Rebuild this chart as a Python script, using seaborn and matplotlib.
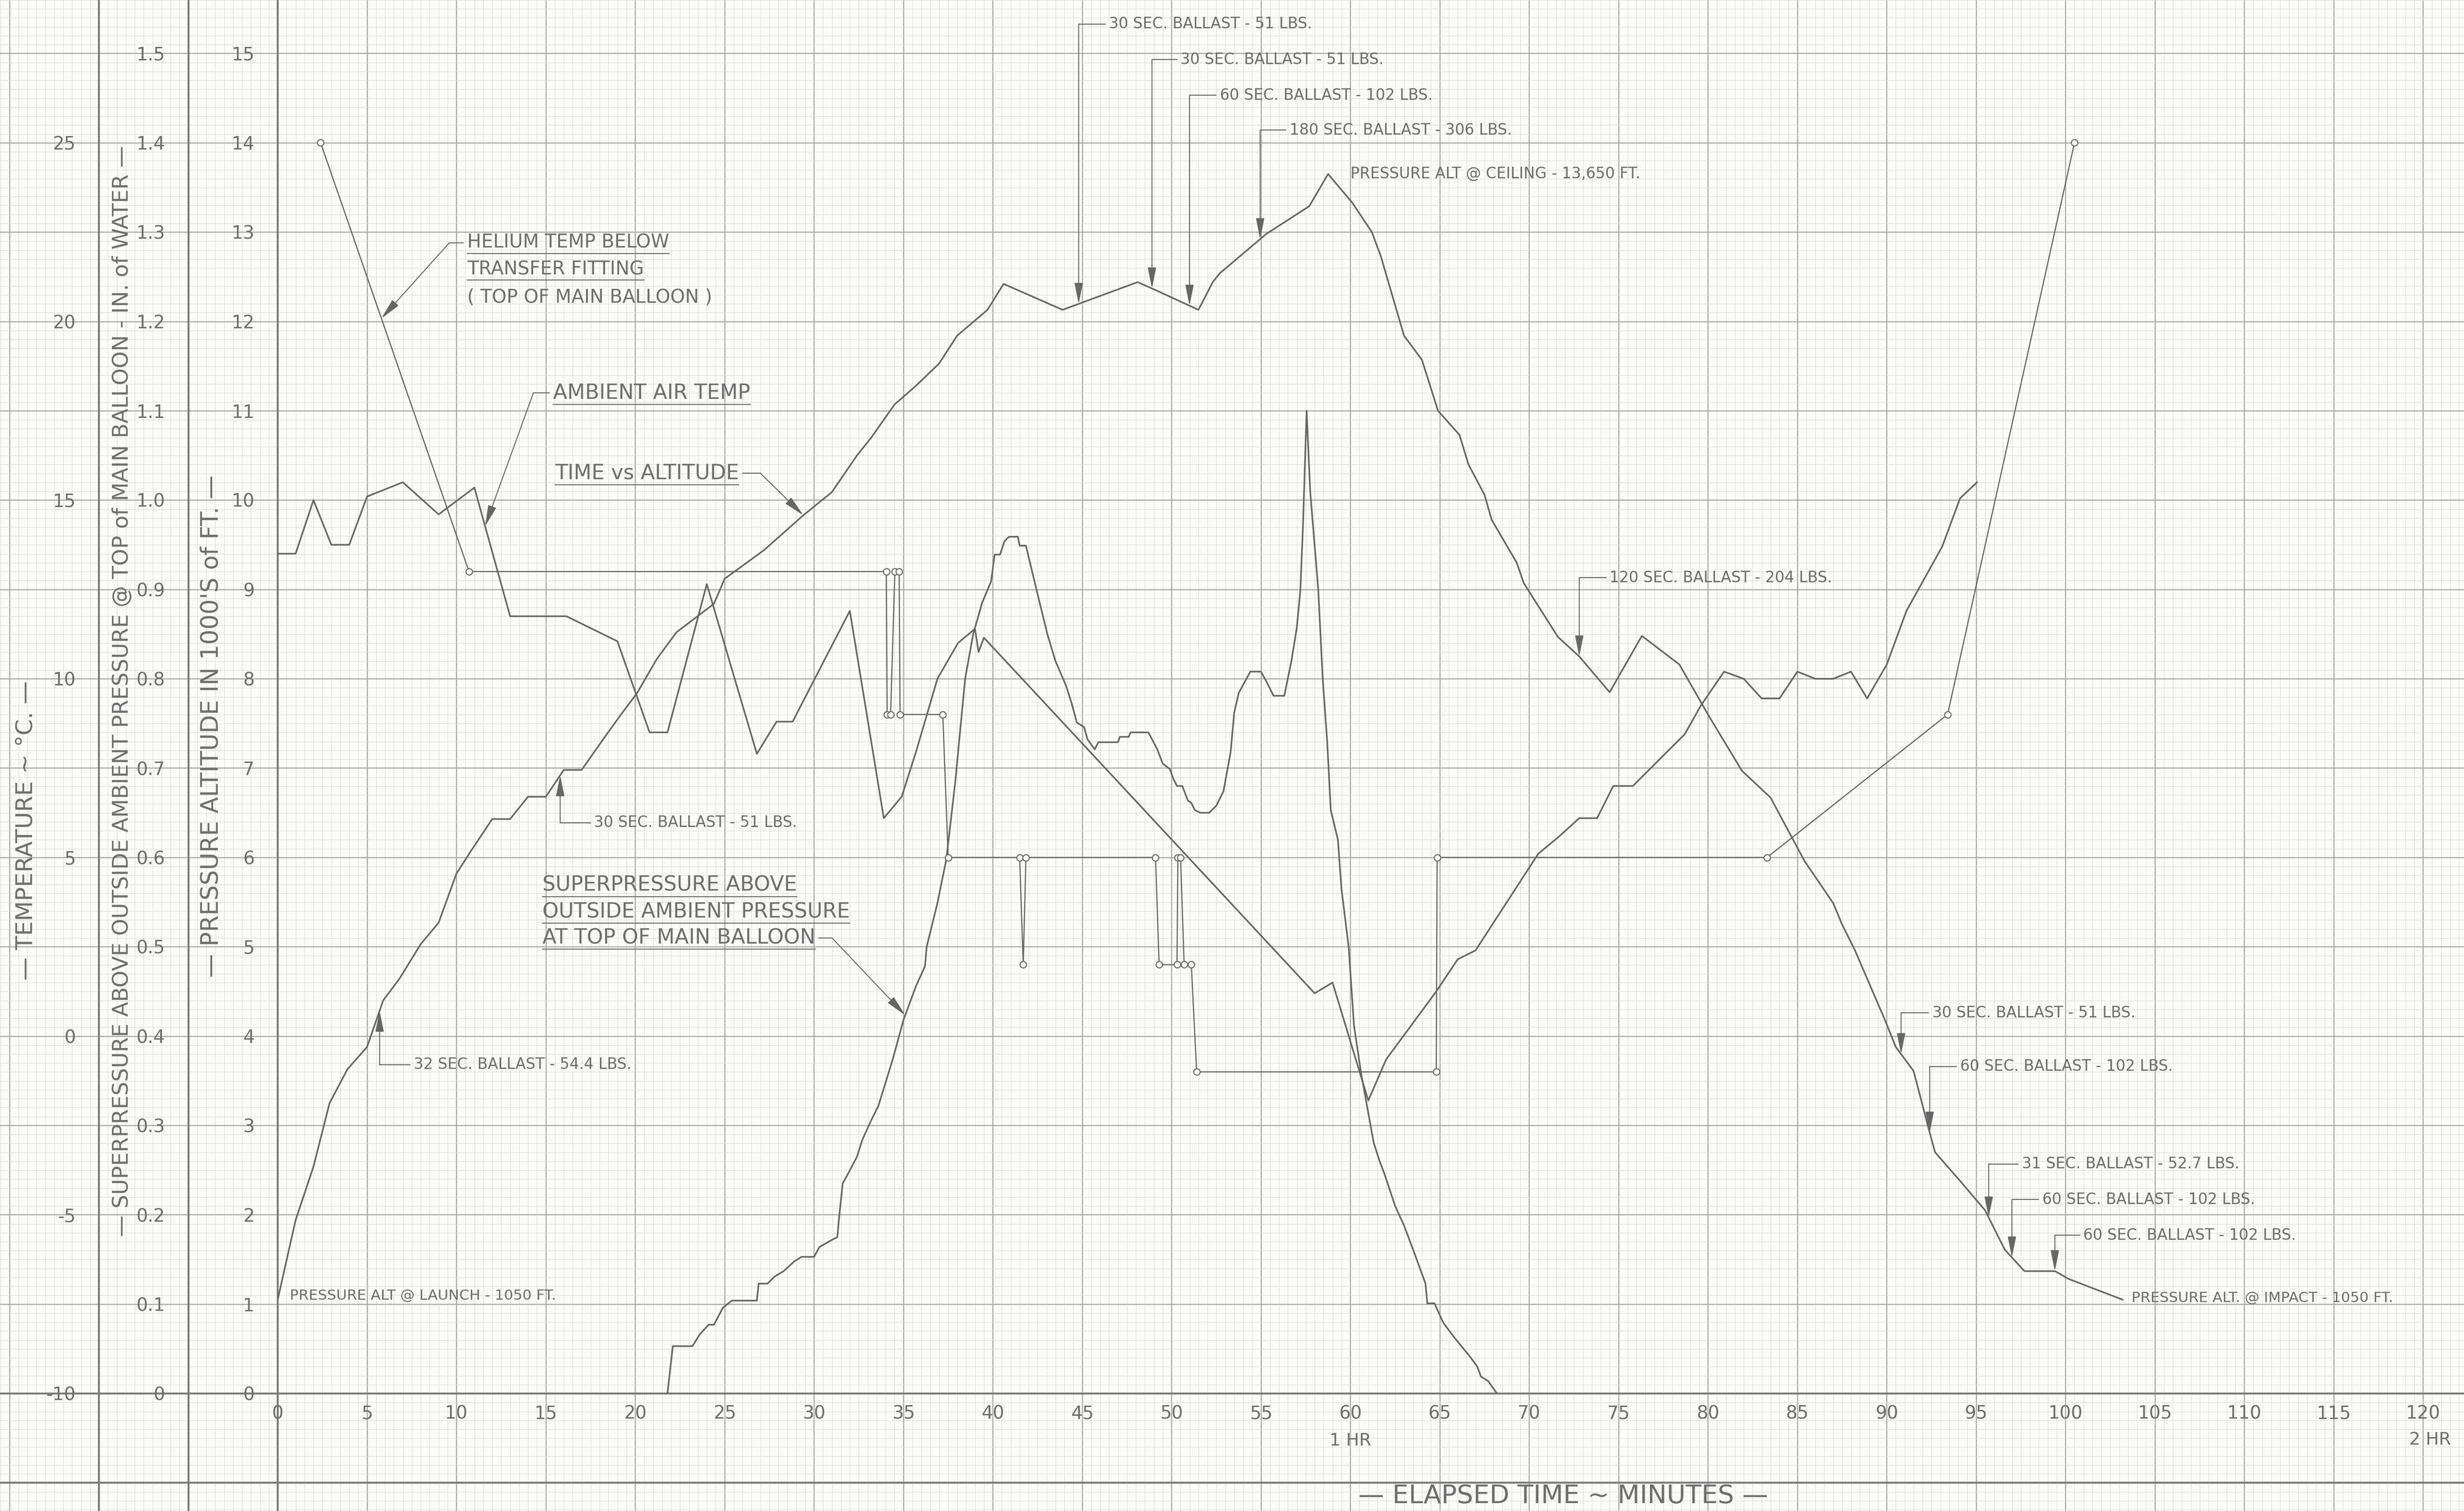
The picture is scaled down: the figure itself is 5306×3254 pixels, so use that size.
import numpy as np
import pandas as pd
import matplotlib
matplotlib.use("Agg")
import matplotlib.pyplot as plt
import seaborn as sns

# ---------------------------------------------------------------- data
# Pressure altitude (thousands of feet) against elapsed time (minutes)
alt_minutes = [0, 1.0, 2.0, 2.9, 3.9, 5.0, 5.9, 6.8, 8.0, 9.0,
               10.0, 10.8, 12.0, 13.0, 14.0, 15.0, 16.0, 17.0, 18.3, 19.2,
               20.1, 21.2, 22.3, 24.4, 25.0, 27.2, 29.4, 31.0, 32.4, 33.2,
               34.5, 35.7, 37.0, 38.0, 39.7, 40.6, 43.9, 48.1, 49.0, 51.5,
               52.3, 52.7, 55.3, 57.7, 58.75, 60.1, 61.2, 61.7, 63.0, 64.0,
               64.9, 66.1, 66.6, 67.5, 67.9, 69.3, 69.7, 71.6, 72.8, 74.5,
               76.3, 78.4, 80.0, 81.9, 83.5, 85.4, 87.0, 87.5, 88.2, 89.9,
               90.5, 91.5, 92.4, 92.7, 94.1, 95.5, 96.6, 97.7, 99.4, 100.2,
               103.2]
alt_kft = [1.05, 1.94, 2.54, 3.25, 3.63, 3.88, 4.40, 4.64, 5.03, 5.27,
           5.82, 6.07, 6.43, 6.43, 6.68, 6.68, 6.98, 6.98, 7.35, 7.60,
           7.84, 8.22, 8.52, 8.84, 9.12, 9.44, 9.83, 10.09, 10.50, 10.70,
           11.07, 11.28, 11.53, 11.84, 12.13, 12.42, 12.13, 12.44, 12.36, 12.13,
           12.44, 12.54, 12.98, 13.29, 13.65, 13.33, 13.00, 12.73, 11.84, 11.57,
           11.00, 10.73, 10.40, 10.06, 9.78, 9.30, 9.07, 8.47, 8.25, 7.85,
           8.48, 8.16, 7.60, 6.97, 6.67, 5.96, 5.49, 5.25, 4.97, 4.18,
           3.88, 3.61, 2.92, 2.70, 2.38, 2.05, 1.61, 1.37, 1.37, 1.28,
           1.05]

# Superpressure above outside ambient pressure, inches of water
sp_minutes = [21.8, 22.1, 23.2, 23.6, 24.1, 24.4, 24.9, 25.4, 26.8, 26.9,
              27.4, 27.8, 28.3, 28.9, 29.3, 30.0, 30.3, 31.0, 31.3, 31.4,
              31.6, 31.9, 32.4, 32.7, 33.2, 33.6, 34.4, 35.0, 35.7, 36.2,
              36.3, 36.9, 37.4, 37.9, 38.45, 38.9, 39.4, 39.9, 40.1, 40.4,
              40.65, 40.9, 41.4, 41.5, 41.85, 42.45, 43.05, 43.5, 44.1, 44.4,
              44.7, 45.1, 45.3, 45.7, 45.9, 47.0, 47.1, 47.6, 47.7, 48.7,
              49.2, 49.5, 49.9, 50.1, 50.3, 50.6, 50.9, 51.1, 51.3, 51.6,
              52.1, 52.5, 52.9, 53.3, 53.5, 53.75, 54.4, 55.0, 55.3, 55.7,
              56.3, 56.7, 57.0, 57.2, 57.35, 57.55, 57.75, 58.2, 58.45, 58.7,
              58.9, 59.3, 59.5, 59.9, 60.2, 60.6, 61.1, 61.3, 61.6, 61.9,
              62.5, 63.0, 63.6, 64.2, 64.3, 64.7, 65.2, 65.8, 66.25, 66.7,
              67.1, 67.3, 67.7, 68.2]
sp_inh2o = [0.0, 0.053, 0.053, 0.066, 0.077, 0.077, 0.096, 0.104, 0.104, 0.123,
            0.123, 0.131, 0.137, 0.148, 0.153, 0.153, 0.164, 0.172, 0.175, 0.197,
            0.235, 0.246, 0.265, 0.284, 0.306, 0.322, 0.374, 0.418, 0.456, 0.478,
            0.500, 0.549, 0.598, 0.685, 0.800, 0.850, 0.885, 0.909, 0.939, 0.939,
            0.954, 0.959, 0.959, 0.949, 0.949, 0.899, 0.850, 0.820, 0.792, 0.773,
            0.751, 0.746, 0.732, 0.721, 0.729, 0.729, 0.735, 0.735, 0.740, 0.740,
            0.721, 0.705, 0.699, 0.688, 0.680, 0.680, 0.664, 0.661, 0.653, 0.650,
            0.650, 0.658, 0.674, 0.718, 0.762, 0.784, 0.808, 0.808, 0.797, 0.781,
            0.781, 0.820, 0.857, 0.899, 0.973, 1.100, 1.010, 0.900, 0.800, 0.730,
            0.653, 0.620, 0.565, 0.500, 0.412, 0.358, 0.303, 0.281, 0.262, 0.246,
            0.210, 0.188, 0.156, 0.123, 0.101, 0.101, 0.079, 0.063, 0.052, 0.041,
            0.030, 0.019, 0.014, 0.0]

# Helium temperature below transfer fitting, deg C (logged readings)
helium_minutes = [2.4, 10.7, 34.04, 34.09, 34.28, 34.52, 34.76, 34.81, 37.2, 37.5,
                  41.5, 41.7, 41.85, 49.1, 49.3, 50.3, 50.35, 50.5, 50.7, 51.1,
                  51.4, 64.8, 64.85, 83.3, 93.4, 100.5]
helium_degc = [25, 13, 13, 9, 9, 13, 13, 9, 9, 5,
               5, 2, 5, 5, 2, 2, 5, 5, 2, 2,
               -1, -1, 5, 5, 9, 25]

# Ambient air temperature, deg C
ambient_minutes = [0, 1, 2, 3, 4, 5, 7, 9, 11, 13,
                   16.15, 19.0, 20.8, 21.8, 24.0, 26.8, 27.9, 28.8, 32.0, 33.9,
                   34.9, 35.7, 36.9, 38.05, 39.0, 39.2, 39.5, 58.0, 59.0, 61.0,
                   62.0, 64.8, 66.0, 67.0, 70.5, 71.7, 72.8, 73.8, 74.7, 75.8,
                   76.8, 78.7, 79.6, 80.9, 82.0, 83.0, 84.0, 85.0, 86.0, 87.0,
                   88.0, 88.9, 90.0, 91.1, 93.1, 94.1, 95.05]
ambient_degc = [13.5, 13.5, 15.0, 13.75, 13.75, 15.1, 15.5, 14.6, 15.35, 11.75,
                11.75, 11.05, 8.5, 8.5, 12.65, 7.9, 8.8, 8.8, 11.9, 6.1,
                6.7, 7.95, 10.0, 11.0, 11.4, 10.75, 11.15, 1.2, 1.5, -1.8,
                -0.65, 1.25, 2.15, 2.4, 5.1, 5.6, 6.1, 6.1, 7.0, 7.0,
                7.5, 8.45, 9.25, 10.2, 10.0, 9.45, 9.45, 10.2, 10.0, 10.0,
                10.2, 9.45, 10.4, 11.9, 13.7, 15.05, 15.5]

# Axis scales
minute_ticks = list(range(0, 121, 5))
altitude_ticks = list(range(0, 16))
pressure_ticks = [i / 10 for i in range(16)]
pressure_labels = ["0"] + [f"{v:.1f}" for v in pressure_ticks[1:]]
temp_ticks = [-10, -5, 0, 5, 10, 15, 20, 25]

# Ballast notes on the altitude trace: (text, text x, text y, arrow x)
ballast_notes = [
    ("32 SEC. BALLAST - 54.4 LBS.", 7.6, 3.68, 5.7),
    ("30 SEC. BALLAST - 51 LBS.", 17.7, 6.39, 15.8),
    ("30 SEC. BALLAST - 51 LBS.", 46.5, 15.33, 44.8),
    ("30 SEC. BALLAST - 51 LBS.", 50.5, 14.93, 48.9),
    ("60 SEC. BALLAST - 102 LBS.", 52.7, 14.53, 51.0),
    ("180 SEC. BALLAST - 306 LBS.", 56.6, 14.14, 54.95),
    ("120 SEC. BALLAST - 204 LBS.", 74.5, 9.13, 72.8),
    ("30 SEC. BALLAST - 51 LBS.", 92.55, 4.26, 90.8),
    ("60 SEC. BALLAST - 102 LBS.", 94.1, 3.66, 92.4),
    ("31 SEC. BALLAST - 52.7 LBS.", 97.55, 2.57, 95.7),
    ("60 SEC. BALLAST - 102 LBS.", 98.7, 2.17, 97.0),
    ("60 SEC. BALLAST - 102 LBS.", 101.0, 1.77, 99.4),
]

# ---------------------------------------------------------------- style
INK = "#666666"
TEXT = "#6e6e6e"
PAPER = "#fbfbfa"
GRID_MAJOR = "#a8a8a8"
GRID_MINOR = "#d9d9d9"
RULE = "#7a7a7a"
LW = 2.5
NOTE_SIZE = 23.5

sns.set_style("white")
plt.rcParams["font.family"] = ["DejaVu Sans"]
plt.rcParams["axes.unicode_minus"] = False

W, H, DPI = 5306, 3254, 100
X0, Y0 = 598, 3001          # pixel position of (0 min, 0 ft)
PX_MIN, PX_KFT = 38.5, 192.4  # pixels per minute / per 1000 ft

fig = plt.figure(figsize=(W / DPI, H / DPI), dpi=DPI, facecolor=PAPER)

# graph paper covering the whole sheet, in the same units as the plot
bg = fig.add_axes([0, 0, 1, 1], zorder=0)
bg.set_facecolor(PAPER)
bg.set_xlim(-X0 / PX_MIN, (W - X0) / PX_MIN)
bg.set_ylim(-(H - Y0) / PX_KFT, Y0 / PX_KFT)
bg.set_xticks(np.arange(-15, 125, 5))
bg.set_xticks(np.arange(-15.5, 122.5, 0.5), minor=True)
bg.set_yticks(np.arange(-1, 16, 1))
bg.set_yticks(np.round(np.arange(-1.3, 15.65, 0.1), 2), minor=True)
bg.grid(which="minor", color=GRID_MINOR, lw=0.7)
bg.grid(which="major", color=GRID_MAJOR, lw=1.7)
bg.tick_params(which="both", length=0, labelbottom=False, labelleft=False)
for s in bg.spines.values():
    s.set_visible(False)
for xv in (-10, -5, 0):
    bg.axvline(xv, color=RULE, lw=3.0)
for yv in (0, -1):
    bg.axhline(yv, color=RULE, lw=3.0)

# main plot: altitude scale
ax = fig.add_axes([X0 / W, (H - Y0) / H, 120 * PX_MIN / W, 15 * PX_KFT / H], zorder=2)
ax.patch.set_visible(False)
ax_sp = ax.twinx()
ax_t = ax.twinx()
ax_sp.set_zorder(3)
ax_t.set_zorder(4)

alt_df = pd.DataFrame({"minutes": alt_minutes, "altitude": alt_kft})
sp_df = pd.DataFrame({"minutes": sp_minutes, "superpressure": sp_inh2o})
he_df = pd.DataFrame({"minutes": helium_minutes, "temperature": helium_degc})
amb_df = pd.DataFrame({"minutes": ambient_minutes, "temperature": ambient_degc})

sns.lineplot(data=alt_df, x="minutes", y="altitude", ax=ax, sort=False,
             estimator=None, color=INK, lw=LW)
sns.lineplot(data=sp_df, x="minutes", y="superpressure", ax=ax_sp, sort=False,
             estimator=None, color=INK, lw=LW)
sns.lineplot(data=amb_df, x="minutes", y="temperature", ax=ax_t, sort=False,
             estimator=None, color=INK, lw=LW)
sns.lineplot(data=he_df, x="minutes", y="temperature", ax=ax_t, sort=False,
             estimator=None, color=INK, lw=1.8, marker="o", markersize=10,
             markerfacecolor=PAPER, markeredgecolor=INK, markeredgewidth=1.6)

ax.set_xlim(0, 120)
ax.set_ylim(0, 15)
ax_sp.set_ylim(0, 1.5)
ax_t.set_ylim(-10, 27.5)

tick_kw = dict(length=0, labelsize=28, labelcolor=TEXT)
ax.set_xticks(minute_ticks)
ax.set_xticklabels([str(m) for m in minute_ticks])
ax.tick_params(axis="x", pad=18, **tick_kw)
ax.set_yticks(altitude_ticks)
ax.set_yticklabels([str(a) for a in altitude_ticks])
ax.tick_params(axis="y", pad=36, **tick_kw)

ax_sp.yaxis.tick_left()
ax_sp.spines["left"].set_position(("axes", -5 / 120))
ax_sp.set_yticks(pressure_ticks)
ax_sp.set_yticklabels(pressure_labels)
ax_sp.tick_params(axis="y", pad=36, **tick_kw)

ax_t.yaxis.tick_left()
ax_t.spines["left"].set_position(("axes", -10 / 120))
ax_t.set_yticks(temp_ticks)
ax_t.set_yticklabels([str(t) for t in temp_ticks])
ax_t.tick_params(axis="y", pad=36, **tick_kw)

for a in (ax, ax_sp, ax_t):
    for s in a.spines.values():
        s.set_visible(False)

# axis titles
ax.set_xlabel("— ELAPSED TIME ~ MINUTES —", fontsize=40, color=TEXT)
ax.xaxis.set_label_coords(71.9 / 120, -1.15 / 15)
ax.xaxis.label.set_verticalalignment("center")

ax.set_ylabel("— PRESSURE ALTITUDE IN 1000'S of FT. —", fontsize=37, color=TEXT)
ax.yaxis.set_label_coords(-3.7 / 120, 7.47 / 15)
ax_sp.set_ylabel("— SUPERPRESSURE ABOVE OUTSIDE AMBIENT PRESSURE @ TOP of MAIN BALLOON - IN. of WATER —",
                 fontsize=33.5, color=TEXT)
ax_sp.yaxis.set_label_position("left")
ax_sp.yaxis.set_label_coords(-8.7 / 120, 7.86 / 15)
ax_t.set_ylabel("— TEMPERATURE ~ °C. —", fontsize=36, color=TEXT)
ax_t.yaxis.set_label_position("left")
ax_t.yaxis.set_label_coords(-14.1 / 120, 6.3 / 15)
for a in (ax, ax_sp, ax_t):
    a.yaxis.label.set_verticalalignment("center")
    a.yaxis.label.set_horizontalalignment("center")

ax.text(60, -0.53, "1 HR", fontsize=27, color=TEXT, ha="center", va="center")
ax.text(120.4, -0.52, "2 HR", fontsize=27, color=TEXT, ha="center", va="center")

# ---------------------------------------------------------------- notes
renderer = fig.canvas.get_renderer()
ARROW = dict(arrowstyle="-|>,head_length=0.7,head_width=0.14", color=INK, lw=1.5,
             shrinkA=0, shrinkB=0, mutation_scale=40)


def text_box(t):
    bb = t.get_window_extent(renderer)
    (x0, y0), (x1, y1) = ax.transData.inverted().transform([[bb.x0, bb.y0], [bb.x1, bb.y1]])
    return x0, y0, x1, y1


def note(lines, x, ys, size, underline=()):
    texts = []
    for i, (s, y) in enumerate(zip(lines, ys)):
        t = ax.text(x, y, s, fontsize=size, color=TEXT, ha="left", va="center")
        texts.append(t)
        if i in underline:
            bx0, by0, bx1, by1 = text_box(t)
            ax.plot([bx0, bx1], [by0 - 0.015, by0 - 0.015], color=TEXT, lw=1.6,
                    clip_on=False)
    return texts


def leader(t, elbow_x, tip, tip_axes, side="left"):
    bx0, by0, bx1, by1 = text_box(t)
    y = t.get_position()[1]
    start = bx0 - 0.2 if side == "left" else bx1 + 0.2
    ax.plot([start, elbow_x], [y, y], color=INK, lw=1.5, clip_on=False)
    ax.annotate("", xy=tip, xycoords=tip_axes.transData, xytext=(elbow_x, y),
                textcoords="data", arrowprops=ARROW, annotation_clip=False)


for label, tx, ty, ax_x in ballast_notes:
    (t,) = note([label], tx, [ty], NOTE_SIZE)
    tip_y = float(np.interp(ax_x, alt_minutes, alt_kft))
    leader(t, ax_x, (ax_x, tip_y), ax)

# series labels
he = note(["HELIUM TEMP BELOW", "TRANSFER FITTING", "( TOP OF MAIN BALLOON )"],
          10.6, [12.88, 12.58, 12.27], 29, underline=(0, 1))
leader(he[0], 9.6, (5.8, float(np.interp(5.8, helium_minutes, helium_degc))), ax_t)

amb = note(["AMBIENT AIR TEMP"], 15.4, [11.2], 32, underline=(0,))
leader(amb[0], 14.3, (11.6, float(np.interp(11.6, ambient_minutes, ambient_degc))), ax_t)

tva = note(["TIME vs ALTITUDE"], 15.5, [10.3], 32, underline=(0,))
leader(tva[0], 27.0, (29.4, float(np.interp(29.4, alt_minutes, alt_kft))), ax, side="right")

spn = note(["SUPERPRESSURE ABOVE", "OUTSIDE AMBIENT PRESSURE", "AT TOP OF MAIN BALLOON"],
           14.8, [5.69, 5.39, 5.10], 32, underline=(0, 1, 2))
leader(spn[2], 31.0, (35.1, float(np.interp(35.1, sp_minutes, sp_inh2o))), ax_sp, side="right")

ax.text(0.67, 1.02, "PRESSURE ALT @ LAUNCH - 1050 FT.", fontsize=22.5, color=TEXT,
        ha="left", va="bottom")
ax.text(60.0, 13.65, "PRESSURE ALT @ CEILING - 13,650 FT.", fontsize=23.5, color=TEXT,
        ha="left", va="center")
ax.text(103.7, 1.07, "PRESSURE ALT. @ IMPACT - 1050 FT.", fontsize=22.5, color=TEXT,
        ha="left", va="center")

fig.savefig("out.png", dpi=DPI, facecolor=PAPER)
